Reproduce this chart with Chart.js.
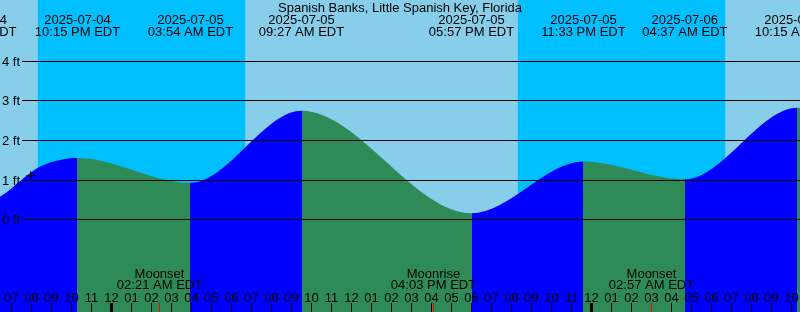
<!DOCTYPE html>
<html><head><meta charset="utf-8">
<script src="https://cdn.jsdelivr.net/npm/chart.js@4.4.1/dist/chart.umd.min.js"></script>
<style>html,body{margin:0;padding:0;background:#fff;}canvas{display:block;}</style>
</head><body>
<canvas id="c" width="800" height="312"></canvas>
<script>
// ---- data ----
const stationName = 'Spanish Banks, Little Spanish Key, Florida';
const viewStart = '2025-07-04 18:22:30';
const viewEnd   = '2025-07-06 10:22:30';
// high / low tide events (time, feet)
const tideTimes   = ['2025-07-04 17:04','2025-07-04 22:15','2025-07-05 03:54','2025-07-05 09:27','2025-07-05 17:57','2025-07-05 23:33','2025-07-06 04:37','2025-07-06 10:15'];
const tideHeights = [0.40, 1.56, 0.93, 2.75, 0.16, 1.47, 1.02, 2.83];
// extra samples
const curveTimes   = ['2025-07-04 18:22:30','2025-07-04 19:27','2025-07-04 20:22:30','2025-07-04 21:22:30','2025-07-06 10:22:30'];
const curveHeights = [0.58, 1.00, 1.34, 1.51, 2.82];
// night (sunset -> sunrise)
const nightStarts = ['2025-07-04 20:16','2025-07-05 20:16'];
const nightEnds   = ['2025-07-05 06:38','2025-07-06 06:38'];
// moon events
const moonTimes  = ['2025-07-05 02:21','2025-07-05 16:03','2025-07-06 02:57'];
const moonEvents = ['Moonset','Moonrise','Moonset'];
// depth ticks (ft)
const depthTicks = [0, 1, 2, 3, 4];
const depthMin = -2.336, depthMax = 5.553;
// marker
const markerTimes = ['2025-07-04 19:55'];
const markerHeights = [1.11];

const DAY = '#87CEEB', NIGHT = '#00BFFF', RISE = '#0000FF', FALL = '#2E8B57';
const FONT = '13px "Liberation Sans", Arial, sans-serif';

function hrs(s){
  const [d,t] = s.split(' ');
  const [Y,M,D] = d.split('-').map(Number);
  const [hh,mm,ss=0] = t.split(':').map(Number);
  return (Date.UTC(Y,M-1,D,hh,mm,ss) - Date.UTC(2025,6,5)) / 3600000;
}
function fmt12(s){
  const t = s.split(' ')[1];
  const [hh,mm] = t.split(':').map(Number);
  const ap = hh < 12 ? 'AM' : 'PM';
  const h12 = hh % 12 || 12;
  return String(h12).padStart(2,'0') + ':' + String(mm).padStart(2,'0') + ' ' + ap + ' EDT';
}

const pts = tideTimes.map((t,i)=>({x:hrs(t), y:tideHeights[i]}))
  .concat(curveTimes.map((t,i)=>({x:hrs(t), y:curveHeights[i]})))
  .sort((a,b)=>a.x-b.x);

// rising = blue, falling = green, switched exactly at each data point
function tideFill(c){
  const ch = c.chart, a = ch.chartArea;
  if (!a || !ch.scales.x) return RISE;
  const x = ch.scales.x;
  const g = ch.ctx.createLinearGradient(a.left, 0, a.right, 0);
  const pos = v => Math.min(1, Math.max(0, (x.getPixelForValue(v) - a.left) / (a.right - a.left)));
  for (let i = 0; i < pts.length - 1; i++){
    const col = pts[i+1].y > pts[i].y ? RISE : FALL;
    g.addColorStop(pos(pts[i].x), col);
    g.addColorStop(pos(pts[i+1].x), col);
  }
  return g;
}

const decor = {
  id: 'decor',
  beforeDraw(chart){
    const {ctx, chartArea:a, scales:{x}} = chart;
    ctx.save();
    ctx.fillStyle = DAY;
    ctx.fillRect(a.left, a.top, a.width, a.height);
    ctx.fillStyle = NIGHT;
    nightStarts.forEach((s,i)=>{
      const x0 = x.getPixelForValue(hrs(s)), x1 = x.getPixelForValue(hrs(nightEnds[i]));
      ctx.fillRect(x0, a.top, x1-x0, a.height);
    });
    ctx.restore();
  },
  afterDatasetsDraw(chart){
    const {ctx, chartArea:a, scales:{x,y}} = chart;
    ctx.save();
    ctx.font = FONT;
    ctx.fillStyle = '#000';
    ctx.strokeStyle = '#000';
    ctx.lineWidth = 1;
    ctx.textBaseline = 'alphabetic';
    // depth lines + labels
    depthTicks.forEach(v=>{
      const py = Math.floor(y.getPixelForValue(v)) + 0.5;
      ctx.beginPath(); ctx.moveTo(22, py); ctx.lineTo(a.right, py); ctx.stroke();
      ctx.textAlign = 'right';
      ctx.fillText(v + ' ft', 20, py + 4.5);
    });
    // title
    ctx.textAlign = 'center';
    ctx.fillText(stationName, (a.left + a.right)/2, 12);
    // tide labels
    tideTimes.forEach(t=>{
      const px = x.getPixelForValue(hrs(t));
      ctx.fillText(t.slice(0,10), px, 24);
      ctx.fillText(fmt12(t), px, 36);
    });
    // moon labels
    moonTimes.forEach((t,i)=>{
      const px = x.getPixelForValue(hrs(t));
      ctx.fillText(moonEvents[i], px, 278);
      ctx.fillText(fmt12(t), px, 289);
    });
    // hour ticks and labels
    for (let h = Math.ceil(x.min); h <= Math.floor(x.max); h++){
      const px = x.getPixelForValue(h);
      const col = Math.floor(px) - 1;
      const hod = ((h % 24) + 24) % 24;
      const lab = String(hod % 12 || 12).padStart(2,'0');
      ctx.fillStyle = '#000';
      if (hod === 0) ctx.fillRect(col-1, 303, 3, 9);
      else ctx.fillRect(col, 303, 1, 9);
      ctx.fillText(lab, col + 0.5, 302);
    }
    // moon ticks
    ctx.fillStyle = '#FF0000';
    moonTimes.forEach(t=>{
      const px = x.getPixelForValue(hrs(t));
      ctx.fillRect(Math.round(px-1), 303, 1, 9);
    });
    ctx.restore();
  }
};

new Chart(document.getElementById('c'), {
  type: 'line',
  data: {
    datasets: [
      {
        type: 'scatter',
        data: markerTimes.map((t,i)=>({x:hrs(t), y:markerHeights[i]})),
        pointStyle: 'cross', pointRadius: 4.5, borderColor: '#000', backgroundColor: '#000', borderWidth: 1.2,
        showLine: false
      },
      {
        data: pts,
        fill: 'start',
        borderWidth: 0,
        borderColor: 'rgba(0,0,0,0)',
        pointRadius: 0,
        cubicInterpolationMode: 'monotone',
        backgroundColor: tideFill
      }
    ]
  },
  options: {
    responsive: false, animation: false, devicePixelRatio: 1, events: [],
    layout: { padding: 0, autoPadding: false },
    scales: {
      x: { type: 'linear', min: hrs(viewStart), max: hrs(viewEnd), display: false },
      y: { min: depthMin, max: depthMax, display: false }
    },
    plugins: { legend: { display: false }, tooltip: { enabled: false } }
  },
  plugins: [decor]
});
</script>
</body></html>
